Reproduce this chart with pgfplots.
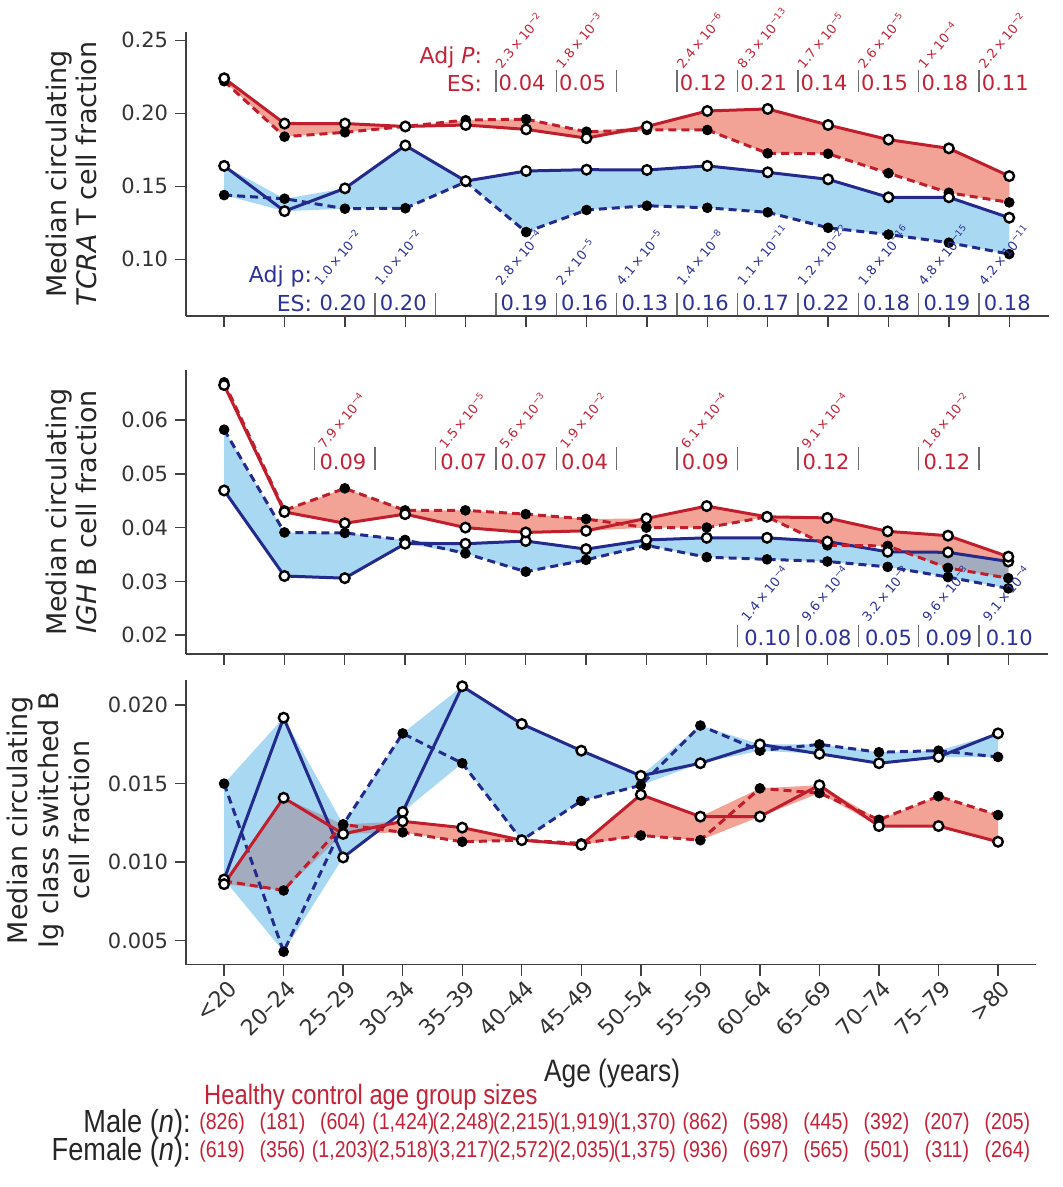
\documentclass[border=0pt]{standalone}
\usepackage{fontspec}
\setmainfont{DejaVu Sans}
\newfontfamily\condfont[FakeStretch=0.85]{Liberation Sans}
\usepackage{pgfplots}
\pgfplotsset{compat=1.18}
\usepackage{pgfplotstable}
\usepgfplotslibrary{fillbetween}

\definecolor{rline}{RGB}{193,30,45}
\definecolor{bline}{RGB}{36,42,140}
\definecolor{rfill}{RGB}{243,162,150}
\definecolor{bfill}{RGB}{90,180,230}
\definecolor{rtext}{RGB}{196,35,55}
\definecolor{btext}{RGB}{45,50,150}
\definecolor{sep}{RGB}{110,110,110}

\newcommand{\pv}[2]{#1\,×\,10\textsuperscript{−#2}}

% x rs = red solid, rd = red dashed, bs = blue solid, bd = blue dashed
\pgfplotstableread{
x rs rd bs bd
0 0.224 0.222 0.164 0.144
1 0.193 0.184 0.133 0.1415
2 0.193 0.187 0.1486 0.1347
3 0.191 0.191 0.178 0.135
4 0.192 0.1954 0.1536 0.153
5 0.189 0.196 0.1605 0.1187
6 0.183 0.1874 0.1614 0.1338
7 0.191 0.1886 0.1612 0.1367
8 0.2016 0.1886 0.164 0.1353
9 0.203 0.1726 0.1596 0.1322
10 0.192 0.1723 0.1548 0.1216
11 0.182 0.159 0.1425 0.117
12 0.176 0.1456 0.1425 0.1114
13 0.157 0.139 0.1285 0.1036
}\tcra

\pgfplotstableread{
x rs rd bs bd
0 0.0665 0.0670 0.0469 0.0582
1 0.0429 0.0432 0.0310 0.0391
2 0.0408 0.0473 0.0306 0.0390
3 0.0425 0.0432 0.0370 0.0377
4 0.0400 0.0432 0.0370 0.0352
5 0.0391 0.0425 0.0375 0.0318
6 0.0394 0.0416 0.0360 0.0340
7 0.0417 0.0400 0.0377 0.0367
8 0.0440 0.0400 0.0381 0.0345
9 0.0420 0.0420 0.0381 0.0341
10 0.0418 0.0367 0.0374 0.0337
11 0.0393 0.0366 0.0355 0.0327
12 0.0385 0.0325 0.0354 0.0308
13 0.0346 0.0306 0.0337 0.0287
}\igh

\pgfplotstableread{
x rs rd bs bd
0 0.0086 0.0088 0.0089 0.0150
1 0.0141 0.0082 0.0192 0.0043
2 0.0118 0.0124 0.0103 0.0124
3 0.0126 0.0119 0.0132 0.0182
4 0.0122 0.0113 0.0212 0.0163
5 0.0114 0.0114 0.0188 0.0114
6 0.0111 0.0112 0.0171 0.0139
7 0.0143 0.0117 0.0155 0.0149
8 0.0129 0.0114 0.0163 0.0187
9 0.0129 0.0147 0.0175 0.0171
10 0.0149 0.0144 0.0169 0.0175
11 0.0123 0.0127 0.0163 0.0170
12 0.0123 0.0142 0.0167 0.0171
13 0.0113 0.0130 0.0182 0.0167
}\igsw

\newcommand{\panelplots}[1]{%
 \addplot[draw=none, name path=rU, forget plot] table[x=x, y expr={max(\thisrow{rs},\thisrow{rd})}] {#1};
 \addplot[draw=none, name path=rL, forget plot] table[x=x, y expr={min(\thisrow{rs},\thisrow{rd})}] {#1};
 \addplot[draw=none, name path=bU, forget plot] table[x=x, y expr={max(\thisrow{bs},\thisrow{bd})}] {#1};
 \addplot[draw=none, name path=bL, forget plot] table[x=x, y expr={min(\thisrow{bs},\thisrow{bd})}] {#1};
 \addplot[fill=rfill, draw=none] fill between[of=rU and rL];
 \addplot[fill=bfill, fill opacity=0.52, draw=none] fill between[of=bU and bL];
 \addplot[bline, line width=1.5pt, dash pattern=on 4pt off 2.5pt, no marks] table[x=x,y=bd] {#1};
 \addplot[bline, line width=1.5pt, no marks] table[x=x,y=bs] {#1};
 \addplot[rline, line width=1.5pt, dash pattern=on 4pt off 2.5pt, no marks] table[x=x,y=rd] {#1};
 \addplot[rline, line width=1.5pt, no marks] table[x=x,y=rs] {#1};
 \addplot[only marks, mark=*, mark size=2.45pt, black] table[x=x,y=bd] {#1};
 \addplot[only marks, mark=*, mark size=2.45pt, black] table[x=x,y=rd] {#1};
 \addplot[only marks, mark=*, mark size=2.4pt, mark options={fill=white, draw=black, line width=1.2pt}] table[x=x,y=bs] {#1};
 \addplot[only marks, mark=*, mark size=2.4pt, mark options={fill=white, draw=black, line width=1.2pt}] table[x=x,y=rs] {#1};
}

\pgfplotsset{panel/.style={
 scale only axis, anchor=south west, clip=false,
 axis x line*=bottom, axis y line*=left,
 axis line style={black!75, line width=0.7pt},
 tick style={black!75, line width=0.7pt},
 tick align=outside, major tick length=5.5pt,
 xtick={0,...,13}, xticklabel={\relax},
 scaled y ticks=false,
 yticklabel style={font=\fontsize{10.5}{12}\selectfont, text=black!80},
}}

\begin{document}
\begin{tikzpicture}
\path (0,0) rectangle (529pt,-593.5pt);

\begin{axis}[panel, at={(91pt,-158pt)}, width=431.5pt, height=142pt,
 xmin=-0.63, xmax=13.66, ymin=0.0612, ymax=0.2557,
 ytick={0.10,0.15,0.20,0.25}, yticklabels={0.10,0.15,0.20,0.25}]
\panelplots{\tcra}
\end{axis}

\begin{axis}[panel, at={(91pt,-327pt)}, width=431pt, height=142pt,
 xmin=-0.63, xmax=13.66, ymin=0.0165, ymax=0.0693,
 ytick={0.02,0.03,0.04,0.05,0.06}, yticklabels={0.02,0.03,0.04,0.05,0.06}]
\panelplots{\igh}
\end{axis}

\begin{axis}[panel, at={(91pt,-482.35pt)}, width=425pt, height=142.35pt,
 xmin=-0.638, xmax=13.64, ymin=0.00347, ymax=0.0216,
 ytick={0.005,0.010,0.015,0.020}, yticklabels={0.005,0.010,0.015,0.020},
 xticklabels={<20,20–24,25–29,30–34,35–39,40–44,45–49,50–54,55–59,60–64,65–69,70–74,75–79,>80},
 xticklabel style={rotate=45, anchor=east, font=\fontsize{11}{12}\selectfont, text=black!80, inner sep=1pt, yshift=-6pt, xshift=1pt}]
\panelplots{\igsw}
\end{axis}

\begin{scope}[x=0.5pt, y=-0.5pt]
% y labels
\node[rotate=90, align=center, font=\fontsize{13.5}{15}\selectfont, text=black!85] at (67,174) {Median circulating\\\textit{TCRA} T cell fraction};
\node[rotate=90, align=center, font=\fontsize{13.5}{15}\selectfont, text=black!85] at (67,512) {Median circulating\\\textit{IGH} B cell fraction};
\node[rotate=90, align=center, font=\fontsize{13.5}{15.5}\selectfont, text=black!85] at (44,820) {Median circulating\\Ig class switched B\\cell fraction};

% ---- top panel, red annotations
\node[anchor=east, text=rtext, font=\fontsize{11}{12}\selectfont] at (485,57) {Adj \textit{P}:};
\node[anchor=east, text=rtext, font=\fontsize{11}{12}\selectfont] at (485,83) {ES:};
\foreach \k in {4.5,5.5,...,12.5} \draw[sep, line width=0.7pt] ({220+60.4*\k},70) -- ++(0,22);
\foreach \k/\v in {5/0.04,6/0.05,8/0.12,9/0.21,10/0.14,11/0.15,12/0.18,13/0.11}
 \node[text=rtext, font=\fontsize{10.5}{12}\selectfont] at ({220+60.4*\k-4},83) {\v};
\foreach \k/\m/\e in {5/2.3/2,6/1.8/3,8/2.4/6,9/8.3/13,10/1.7/5,11/2.6/5,12/1/4,13/2.2/2}
 \node[rotate=50, anchor=south west, inner sep=0pt, text=rtext, font=\fontsize{6.5}{7}\selectfont] at ({220+60.4*\k-24},70) {\pv{\m}{\e}};

% ---- top panel, blue annotations
\node[anchor=east, text=btext, font=\fontsize{11}{12}\selectfont] at (315,276) {Adj p:};
\node[anchor=east, text=btext, font=\fontsize{11}{12}\selectfont] at (315,303) {ES:};
\foreach \k in {2.5,3.5,...,12.5} \draw[sep, line width=0.7pt] ({220+60.4*\k},293) -- ++(0,22);
\foreach \k/\v in {2/0.20,3/0.20,5/0.19,6/0.16,7/0.13,8/0.16,9/0.17,10/0.22,11/0.18,12/0.19,13/0.18}
 \node[text=btext, font=\fontsize{10.5}{12}\selectfont] at ({220+60.4*\k-2},303) {\v};
\foreach \k/\m/\e in {2/1.0/2,3/1.0/2,5/2.8/4,6/2/5,7/4.1/5,8/1.4/8,9/1.1/11,10/1.2/22,11/1.8/16,12/4.8/15,13/4.2/11}
 \node[rotate=50, anchor=south west, inner sep=0pt, text=btext, font=\fontsize{6.5}{7}\selectfont] at ({220+60.4*\k-24},287) {\pv{\m}{\e}};

% ---- middle panel, red annotations
\foreach \k in {1.5,2.5,...,12.5} \draw[sep, line width=0.7pt] ({220+60.4*\k},447) -- ++(0,23);
\foreach \k/\v in {2/0.09,4/0.07,5/0.07,6/0.04,8/0.09,10/0.12,12/0.12}
 \node[text=rtext, font=\fontsize{10.5}{12}\selectfont] at ({220+60.4*\k-2},462) {\v};
\foreach \k/\m/\e in {2/7.9/4,4/1.5/5,5/5.6/3,6/1.9/2,8/6.1/4,10/9.1/4,12/1.8/2}
 \node[rotate=50, anchor=south west, inner sep=0pt, text=rtext, font=\fontsize{6.5}{7}\selectfont] at ({220+60.4*\k-20},450) {\pv{\m}{\e}};

% ---- middle panel, blue annotations
\foreach \k in {8.5,9.5,...,12.5} \draw[sep, line width=0.7pt] ({220+60.4*\k},625) -- ++(0,22);
\foreach \k/\v in {9/0.10,10/0.08,11/0.05,12/0.09,13/0.10}
 \node[text=btext, font=\fontsize{10.5}{12}\selectfont] at ({220+60.4*\k},638) {\v};
\foreach \k/\m/\e in {9/1.4/4,10/9.6/4,11/3.2/2,12/9.6/3,13/9.1/4}
 \node[rotate=50, anchor=south west, inner sep=0pt, text=btext, font=\fontsize{6.5}{7}\selectfont] at ({220+60.4*\k-20},623) {\pv{\m}{\e}};

% ---- bottom texts
\node[text=black!85, font=\condfont\fontsize{15.5}{17}\selectfont] at (608,1073) {Age (years)};
\node[anchor=west, text=rtext, font=\condfont\fontsize{14}{16}\selectfont] at (193,1097) {Healthy control age group sizes};
\node[anchor=east, text=black!85, font=\condfont\fontsize{16}{18}\selectfont, inner sep=1pt] at (189,1124) {Male (\textit{n}):};
\node[anchor=east, text=black!85, font=\condfont\fontsize{16}{18}\selectfont, inner sep=1pt] at (189,1152) {Female (\textit{n}):};
\foreach \v [count=\i from 0] in {(826),(181),(604),(1,424),(2,248),(2,215),(1,919),(1,370),(862),(598),(445),(392),(207),(205)}
 \node[text=rtext, font=\condfont\fontsize{11.5}{13}\selectfont, inner sep=0pt] at ({218+60.4*\i},1124) {\v};
\foreach \v [count=\i from 0] in {(619),(356),(1,203),(2,518),(3,217),(2,572),(2,035),(1,375),(936),(697),(565),(501),(311),(264)}
 \node[text=rtext, font=\condfont\fontsize{11.5}{13}\selectfont, inner sep=0pt] at ({218+60.4*\i},1152) {\v};
\end{scope}
\end{tikzpicture}
\end{document}
